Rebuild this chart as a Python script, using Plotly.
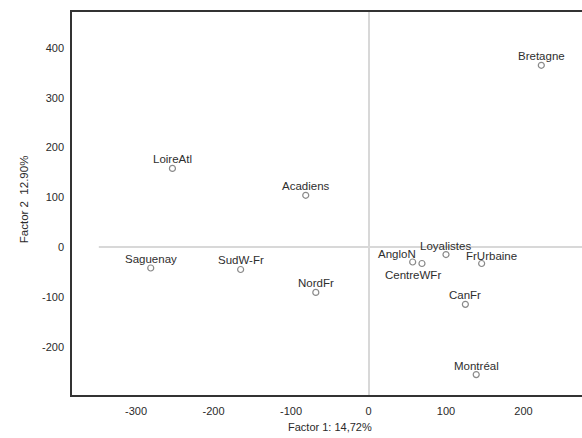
import plotly.graph_objects as go

# Correspondence analysis: coordinates of each population on the first two factors
populations = ["Bretagne", "LoireAtl", "Acadiens", "Saguenay", "SudW-Fr", "NordFr",
               "AngloN", "CentreWFr", "Loyalistes", "FrUrbaine", "CanFr", "Montréal"]
factor1 = [223, -253, -81, -281, -165, -68, 57, 69, 100, 146, 125, 139]
factor2 = [365, 158, 104, -42, -45, -91, -30, -33, -15, -33, -115, -256]

x_ticks = [-300, -200, -100, 0, 100, 200]
y_ticks = [-200, -100, 0, 100, 200, 300, 400]

# Pixel offsets of a few labels that would otherwise collide in the crowded cluster
label_shift = {"AngloN": (-16, 8), "CentreWFr": (-9, -11), "FrUrbaine": (10, 8)}

font_family = "Liberation Sans, Arial, sans-serif"

fig = go.Figure()
fig.add_trace(go.Scatter(
    x=factor1, y=factor2, mode="markers",
    marker=dict(symbol="circle-open", size=6, color="#8a8a8a", line=dict(width=1.2)),
    cliponaxis=False, showlegend=False, hoverinfo="text", text=populations,
))

for name, fx, fy in zip(populations, factor1, factor2):
    dx, dy = label_shift.get(name, (0, 9))
    fig.add_annotation(x=fx, y=fy, text=name, showarrow=False,
                       xanchor="center", yanchor="middle", xshift=dx, yshift=dy,
                       font=dict(family=font_family, size=11.5, color="#2e2e2e"))

# Horizontal reference line at factor 2 = 0
fig.add_shape(type="line", x0=-348, x1=290, y0=0, y1=0, xref="x", yref="y",
              line=dict(color="#d8d8d8", width=2), layer="below")

axis_font = dict(family=font_family, size=11, color="#2a2a2a")

fig.update_xaxes(
    range=[-382.6, 275.5], tickvals=x_ticks, ticktext=[str(v) for v in x_ticks],
    tickfont=axis_font,
    showgrid=False, zeroline=True, zerolinecolor="#d8d8d8", zerolinewidth=2,
    showline=True, linecolor="#333333", linewidth=1.5, mirror=True,
    ticks="", ticklabelstandoff=5,
)
fig.update_yaxes(
    range=[-297, 472], tickvals=y_ticks, ticktext=[str(v) for v in y_ticks],
    tickfont=axis_font,
    showgrid=False, zeroline=False,
    showline=True, linecolor="#333333", linewidth=1.5, mirror=False,
    ticks="", ticklabelstandoff=4,
)

fig.add_annotation(text="Factor 1: 14,72%", xref="paper", yref="paper",
                   x=0.505, y=-0.062, yanchor="top", showarrow=False,
                   font=dict(family=font_family, size=11, color="#2a2a2a"))
fig.add_annotation(text="Factor 2\u00a0 12.90%", xref="paper", yref="paper",
                   x=-0.095, y=0.51, xanchor="center", showarrow=False, textangle=-90,
                   font=dict(family=font_family, size=11.5, color="#2a2a2a"))

fig.update_layout(
    width=582, height=438,
    margin=dict(l=72, r=0, t=12, b=43),
    paper_bgcolor="white", plot_bgcolor="white",
)

fig.write_html("out.html")
